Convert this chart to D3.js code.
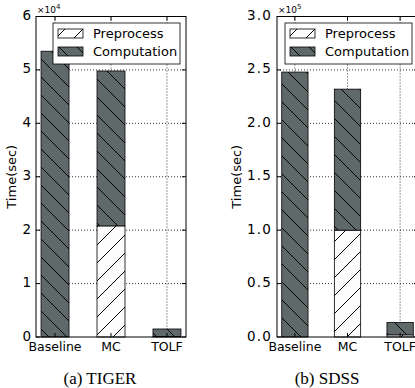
<!DOCTYPE html>
<html>
<head>
<meta charset="utf-8">
<script src="https://cdn.jsdelivr.net/npm/d3@7"></script>
<style>
  html, body { margin: 0; padding: 0; background: #fff; }
  svg { display: block; overflow: hidden; }
  text { font-family: "DejaVu Sans", sans-serif; fill: #000; }
  .caption { font-family: "Liberation Serif", "DejaVu Serif", serif; font-size: 17px; }
</style>
</head>
<body>
<svg width="415" height="388"></svg>
<script>
const categories = ["Baseline", "MC", "TOLF"];
const tigerPre  = [0, 2.08, 0.01];
const tigerComp = [5.35, 2.9, 0.14];
const sdssPre   = [0, 1.0, 0.02];
const sdssComp  = [2.48, 1.32, 0.115];
const tigerTicks = [0, 1, 2, 3, 4, 5, 6];
const tigerTickLabels = ["0", "1", "2", "3", "4", "5", "6"];
const sdssTicks = [0, 0.5, 1.0, 1.5, 2.0, 2.5, 3.0];
const sdssTickLabels = ["0.0", "0.5", "1.0", "1.5", "2.0", "2.5", "3.0"];
const legendLabels = ["Preprocess", "Computation"];

const svg = d3.select("svg");
const gray = "#5f6969";

// hatch patterns
const defs = svg.append("defs");
function hatch(id, fill, back) {
  const s = 18;
  const p = defs.append("pattern").attr("id", id)
    .attr("patternUnits", "userSpaceOnUse")
    .attr("width", s).attr("height", s);
  p.append("rect").attr("width", s).attr("height", s).attr("fill", fill);
  const pts = back
    ? [[0, 0, s, s], [-2, s - 2, 2, s + 2], [s - 2, -2, s + 2, 2]]
    : [[0, s, s, 0], [-2, 2, 2, -2], [s - 2, s + 2, s + 2, s - 2]];
  pts.forEach(d => p.append("line")
    .attr("x1", d[0]).attr("y1", d[1]).attr("x2", d[2]).attr("y2", d[3])
    .attr("stroke", "#000").attr("stroke-width", 1));
}
hatch("hComp", gray, true);
hatch("hPre", "#fcfcfc", false);

function panel(opt) {
  const { left, right, top, bottom } = opt;
  const g = svg.append("g");
  const x = d3.scaleLinear().domain([-0.34, 2.34]).range([left, right]);
  const y = d3.scaleLinear().domain([0, opt.ymax]).range([bottom, top]);

  // grid
  g.append("g").selectAll("line").data(opt.ticks.slice(1, -1)).join("line")
    .attr("x1", left).attr("x2", right)
    .attr("y1", d => y(d)).attr("y2", d => y(d))
    .attr("stroke", "#000").attr("stroke-width", 0.8).attr("stroke-dasharray", "1,2");
  g.append("g").selectAll("line").data(categories).join("line")
    .attr("x1", (d, i) => x(i)).attr("x2", (d, i) => x(i))
    .attr("y1", top).attr("y2", bottom)
    .attr("stroke", "#000").attr("stroke-width", 0.8).attr("stroke-dasharray", "1,2");

  const bw = x(0.25) - x(-0.25);
  // preprocess bars
  g.append("g").selectAll("rect").data(opt.pre).join("rect")
    .attr("x", (d, i) => x(i) - bw / 2).attr("width", bw)
    .attr("y", d => y(d)).attr("height", d => y(0) - y(d))
    .attr("fill", "url(#hPre)").attr("stroke", "#000").attr("stroke-width", 0.8)
    .attr("opacity", d => d > 0 ? 1 : 0);
  // computation bars stacked
  g.append("g").selectAll("rect").data(opt.comp).join("rect")
    .attr("x", (d, i) => x(i) - bw / 2).attr("width", bw)
    .attr("y", (d, i) => y(d + opt.pre[i]))
    .attr("height", (d, i) => y(opt.pre[i]) - y(d + opt.pre[i]))
    .attr("fill", "url(#hComp)").attr("stroke", "#000").attr("stroke-width", 0.8);

  // frame
  g.append("rect").attr("x", left).attr("y", top)
    .attr("width", right - left).attr("height", bottom - top)
    .attr("fill", "none").attr("stroke", "#000").attr("stroke-width", 1);

  // ticks (inward, all sides)
  opt.ticks.forEach(t => {
    g.append("line").attr("x1", left).attr("x2", left + 4).attr("y1", y(t)).attr("y2", y(t)).attr("stroke", "#000");
    g.append("line").attr("x1", right).attr("x2", right - 4).attr("y1", y(t)).attr("y2", y(t)).attr("stroke", "#000");
  });
  categories.forEach((c, i) => {
    g.append("line").attr("x1", x(i)).attr("x2", x(i)).attr("y1", top).attr("y2", top + 4).attr("stroke", "#000");
    g.append("line").attr("x1", x(i)).attr("x2", x(i)).attr("y1", bottom).attr("y2", bottom - 4).attr("stroke", "#000");
  });

  // tick labels
  g.append("g").selectAll("text").data(opt.ticks).join("text")
    .attr("x", left - 5).attr("y", d => y(d) + 3.5)
    .attr("text-anchor", "end").attr("font-size", 13.5)
    .attr("letter-spacing", opt.spacing)
    .text((d, i) => opt.labels[i]);
  g.append("g").selectAll("text").data(categories).join("text")
    .attr("x", (d, i) => x(i)).attr("y", bottom + 14)
    .attr("text-anchor", "middle").attr("font-size", 12.5)
    .text(d => d);

  // exponent
  const ex = g.append("text").attr("x", left + 1).attr("y", top - 4).attr("font-size", 9);
  ex.append("tspan").text("\u00d710");
  ex.append("tspan").attr("dy", -4).attr("font-size", 7).text(opt.exp);

  // y label
  g.append("text")
    .attr("transform", `translate(${opt.labelX},${(top + bottom) / 2}) rotate(-90)`)
    .attr("text-anchor", "middle").attr("font-size", 13)
    .text("Time(sec)");

  // legend
  const lg = g.append("g").attr("transform", `translate(${opt.legX},23)`);
  lg.append("rect").attr("width", 127).attr("height", 41)
    .attr("fill", "#fff").attr("stroke", "#000").attr("stroke-width", 0.8);
  ["url(#hPre)", "url(#hComp)"].forEach((f, i) => {
    lg.append("rect").attr("x", 5).attr("y", 6 + i * 18).attr("width", 25).attr("height", 9)
      .attr("fill", f).attr("stroke", "#000").attr("stroke-width", 0.8);
    lg.append("text").attr("x", 40).attr("y", 15 + i * 18).attr("font-size", 13)
      .text(legendLabels[i]);
  });

  // caption
  svg.append("text").attr("class", "caption")
    .attr("x", opt.capX).attr("y", 384).attr("text-anchor", "middle")
    .text(opt.caption);
}

panel({
  left: 36, right: 186, top: 16.5, bottom: 337, ymax: 6,
  ticks: tigerTicks, labels: tigerTickLabels, pre: tigerPre, comp: tigerComp,
  exp: "4", labelX: 16, legX: 53, caption: "(a)  TIGER", capX: 100, spacing: 0
});
panel({
  left: 277, right: 418, top: 16.5, bottom: 337, ymax: 3,
  ticks: sdssTicks, labels: sdssTickLabels, pre: sdssPre, comp: sdssComp,
  exp: "5", labelX: 241, legX: 285, caption: "(b)  SDSS", capX: 327, spacing: 1.2
});
</script>
</body>
</html>
